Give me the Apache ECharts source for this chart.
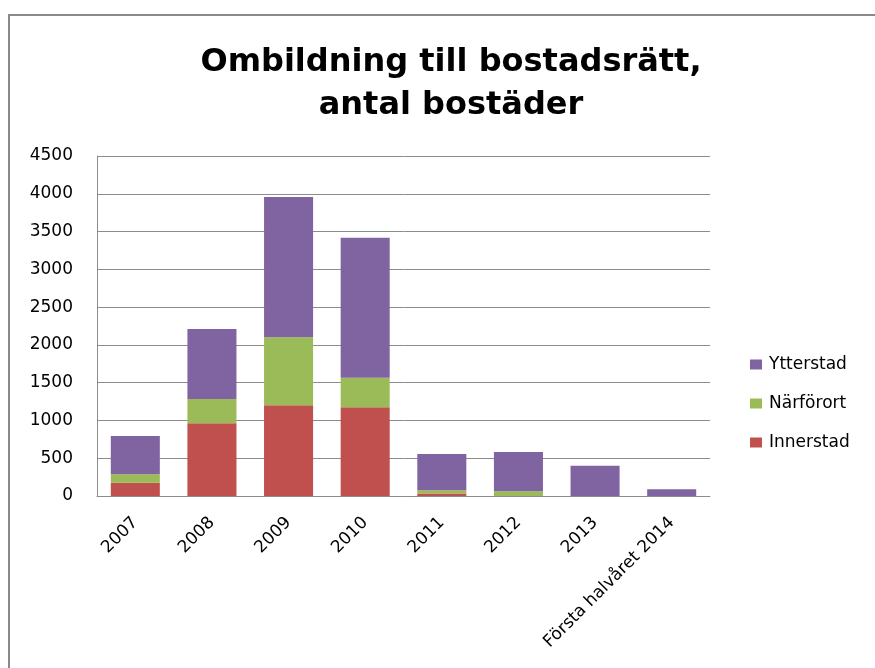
<!DOCTYPE html>
<html>
<head>
<meta charset="utf-8">
<script src="https://cdn.jsdelivr.net/npm/echarts@6/dist/echarts.min.js"></script>
<style>
html,body{margin:0;padding:0;background:#fff;}
#chart{width:875px;height:668px;}
</style>
</head>
<body>
<div id="chart"></div>
<script>
var categories = ['2007','2008','2009','2010','2011','2012','2013','Första halvåret 2014'];
var innerstad = [177, 962, 1200, 1173, 32, 0, 0, 0];
var narforort = [110, 322, 900, 393, 43, 62, 0, 0];
var ytterstad = [507, 926, 1856, 1852, 481, 520, 401, 88];
var yTicks = [0, 500, 1000, 1500, 2000, 2500, 3000, 3500, 4000, 4500];

var FONT = 'DejaVu Sans';
var chart = echarts.init(document.getElementById('chart'), null, {renderer:'canvas'});
chart.setOption({
  backgroundColor:'#fff',
  animation:false,
  title:{
    text:'Ombildning till bostadsrätt,\nantal bostäder',
    left:446, top:36, textAlign:'center',
    textStyle:{fontFamily:FONT, fontWeight:'bold', fontSize:32, lineHeight:43, color:'#000'}
  },
  graphic:[{
    type:'polyline', silent:true,
    shape:{points:[[9,668],[9,15],[875,15]]},
    style:{stroke:'#898989', lineWidth:2, fill:null}
  }],
  legend:{
    orient:'vertical', left:750, top:356, padding:0, itemGap:22,
    itemWidth:12, itemHeight:10,
    icon:'rect',
    data:['Ytterstad','Närförort','Innerstad'],
    textStyle:{fontFamily:FONT, fontSize:17, color:'#000', padding:[0,0,0,2]}
  },
  grid:{left:97, right:165, top:156, bottom:172, containLabel:false},
  xAxis:{
    type:'category', data:categories,
    axisLine:{lineStyle:{color:'#8c8c8c', width:1}},
    axisTick:{show:false},
    axisLabel:{rotate:45, margin:24, interval:0, fontFamily:FONT, fontSize:17, color:'#000'}
  },
  yAxis:{
    type:'value', min:yTicks[0], max:yTicks[yTicks.length-1], interval:yTicks[1]-yTicks[0],
    axisLine:{show:true, lineStyle:{color:'#8c8c8c', width:1}},
    axisTick:{show:false},
    splitLine:{lineStyle:{color:'#8c8c8c', width:1}},
    axisLabel:{margin:24, fontFamily:FONT, fontSize:17, color:'#000', formatter:function(v){return String(v);}}
  },
  series:[
    {name:'Innerstad', type:'bar', stack:'s', data:innerstad, barWidth:'64%', itemStyle:{color:'#C0504D', borderWidth:0}},
    {name:'Närförort', type:'bar', stack:'s', data:narforort, itemStyle:{color:'#9BBB59', borderWidth:0}},
    {name:'Ytterstad', type:'bar', stack:'s', data:ytterstad, itemStyle:{color:'#8064A2', borderWidth:0}}
  ]
});
</script>
</body>
</html>
